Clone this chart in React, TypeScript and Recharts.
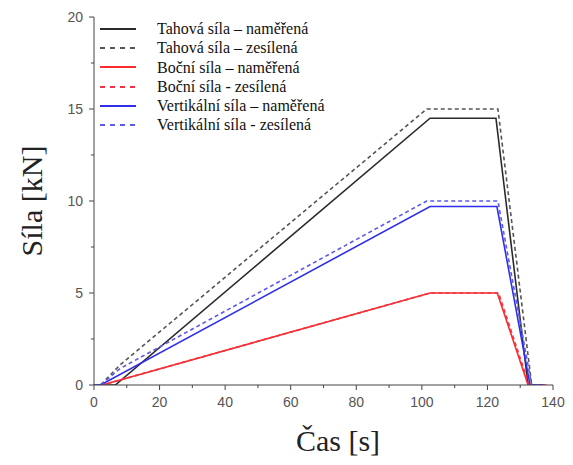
import { LineChart, Line, XAxis, YAxis } from "recharts";

// Time [s] / force [kN] pairs, one series per line
const tahNamT = [0, 6.5, 102.5, 122.6, 132.4, 137];
const tahNamV = [0, 0, 14.5, 14.5, 0, 0];
const tahZesT = [0, 2, 8, 101.5, 123.2, 133.5, 137];
const tahZesV = [0, 0, 1.1, 15, 15, 0, 0];
const bocNamT = [0, 2.5, 102.5, 123, 132.4, 138];
const bocNamV = [0, 0, 5, 5, 0, 0];
const bocZesT = [0, 2.5, 102.5, 123.4, 132.7, 138];
const bocZesV = [0, 0, 5, 5, 0, 0];
const verNamT = [0, 2, 102.5, 122.9, 133, 137];
const verNamV = [0, 0, 9.7, 9.7, 0, 0];
const verZesT = [0, 2, 8, 101.5, 123.2, 133.5, 137];
const verZesV = [0, 0, 0.9, 10, 10, 0, 0];

// major ticks are labelled, minor ones only get a short mark
const xTicks = [0, 10, 20, 30, 40, 50, 60, 70, 80, 90, 100, 110, 120, 130, 140];
const yTicks = [0, 2.5, 5, 7.5, 10, 12.5, 15, 17.5, 20];

const toPoints = (t: number[], v: number[]) => t.map((x, i) => ({ t: x, f: v[i] }));

const SERIES = [
  { name: "Tahová síla – naměřená", data: toPoints(tahNamT, tahNamV), color: "#2a2a2a", dash: undefined },
  { name: "Tahová síla – zesílená", data: toPoints(tahZesT, tahZesV), color: "#555555", dash: "4 3" },
  { name: "Boční síla – naměřená", data: toPoints(bocNamT, bocNamV), color: "#ff2a2a", dash: undefined },
  { name: "Boční síla - zesílená", data: toPoints(bocZesT, bocZesV), color: "#ee3344", dash: "4 3" },
  { name: "Vertikální síla – naměřená", data: toPoints(verNamT, verNamV), color: "#2f2fea", dash: undefined },
  { name: "Vertikální síla - zesílená", data: toPoints(verZesT, verZesV), color: "#5a5aee", dash: "4 3" },
];

const serif = "'Liberation Serif', 'Times New Roman', serif";
const sans = "'Liberation Sans', Arial, sans-serif";
const AXIS = "#444";

const XTick = (props: any) => {
  const { x, y, payload } = props;
  const major = payload.value % 20 === 0;
  return (
    <g>
      <line x1={x} y1={y} x2={x} y2={y + (major ? 5 : 3)} stroke={AXIS} />
      {major && (
        <text x={x} y={y + 22} textAnchor="middle" fontFamily={sans} fontSize={14} fill="#555">
          {payload.value}
        </text>
      )}
    </g>
  );
};

const YTick = (props: any) => {
  const { x, y, payload } = props;
  const major = payload.value % 5 === 0;
  return (
    <g>
      <line x1={x - (major ? 5 : 3)} y1={y} x2={x} y2={y} stroke={AXIS} />
      {major && (
        <text x={x - 11} y={y + 5} textAnchor="end" fontFamily={sans} fontSize={14} fill="#555">
          {payload.value}
        </text>
      )}
    </g>
  );
};

const LegendBox = () => (
  <div
    style={{
      position: "absolute",
      left: 99,
      top: 19,
      fontFamily: serif,
      fontSize: 16,
      color: "#111",
      lineHeight: "19.3px",
    }}
  >
    {SERIES.map((s) => (
      <div key={s.name} style={{ display: "flex", alignItems: "center", whiteSpace: "nowrap" }}>
        <svg width={38} height={10} style={{ marginRight: 20 }}>
          <line x1={1} y1={5} x2={37} y2={5} stroke={s.color} strokeWidth={2} strokeDasharray={s.dash ? "5 5" : undefined} />
        </svg>
        <span>{s.name}</span>
      </div>
    ))}
  </div>
);

export default function App() {
  return (
    <div style={{ position: "absolute", left: 0, top: 0, width: 573, height: 465, background: "#fff" }}>
      <LineChart width={573} height={465} margin={{ top: 17, right: 20, bottom: 50, left: 64 }}>
        <XAxis
          type="number"
          dataKey="t"
          domain={[0, 140]}
          ticks={xTicks}
          allowDataOverflow
          tick={<XTick />}
          tickLine={false}
          tickSize={0}
          tickMargin={0}
          interval={0}
          height={30}
          stroke={AXIS}
          label={{
            content: () => (
              <text x={338} y={451} textAnchor="middle" fontFamily={serif} fontSize={30} fill="#222">
                Čas [s]
              </text>
            ),
          }}
        />
        <YAxis
          type="number"
          domain={[0, 20]}
          ticks={yTicks}
          allowDataOverflow
          tick={<YTick />}
          tickLine={false}
          tickSize={0}
          tickMargin={0}
          interval={0}
          width={30}
          stroke={AXIS}
          label={{
            content: (p: any) => {
              const vb = p.viewBox || { y: 17, height: 368 };
              const cy = vb.y + vb.height / 2;
              return (
                <text x={42} y={cy} transform={`rotate(-90 42 ${cy})`} textAnchor="middle" fontFamily={serif} fontSize={30} fill="#222">
                  Síla [kN]
                </text>
              );
            },
          }}
        />
        {SERIES.map((s) => (
          <Line
            key={s.name}
            data={s.data}
            dataKey="f"
            name={s.name}
            type="linear"
            stroke={s.color}
            strokeWidth={1.6}
            strokeDasharray={s.dash}
            dot={false}
            activeDot={false}
            isAnimationActive={false}
          />
        ))}
      </LineChart>
      <LegendBox />
    </div>
  );
}
